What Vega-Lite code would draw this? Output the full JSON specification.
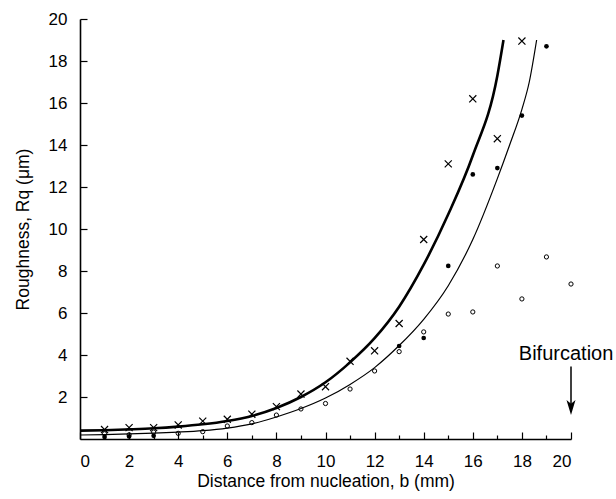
{
  "$schema": "https://vega.github.io/schema/vega-lite/v6.json",
  "width": 491,
  "height": 420,
  "autosize": {"type": "none"},
  "padding": {"left": 80, "top": 19, "right": 45, "bottom": 60},
  "background": "white",
  "config": {
    "view": {"stroke": null},
    "font": "Liberation Sans",
    "axis": {"grid": false, "domainColor": "black", "domainWidth": 1.6, "tickColor": "black", "tickWidth": 1.2, "labelColor": "black", "titleColor": "black", "labelFont": "Liberation Sans", "titleFont": "Liberation Sans", "labelFontSize": 17, "titleFontSize": 17.5, "titleFontWeight": "normal"}
  },
  "resolve": {"axis": {"x": "independent"}},
  "datasets": {
    "points": [
      {"x": 1, "y": 0.45, "series": "cross"}, {"x": 2, "y": 0.54, "series": "cross"}, {"x": 3, "y": 0.54, "series": "cross"}, {"x": 4, "y": 0.67, "series": "cross"}, {"x": 5, "y": 0.85, "series": "cross"}, {"x": 6, "y": 0.94, "series": "cross"}, {"x": 7, "y": 1.18, "series": "cross"}, {"x": 8, "y": 1.54, "series": "cross"}, {"x": 9, "y": 2.14, "series": "cross"}, {"x": 10, "y": 2.49, "series": "cross"}, {"x": 11, "y": 3.7, "series": "cross"}, {"x": 12, "y": 4.2, "series": "cross"}, {"x": 13, "y": 5.5, "series": "cross"}, {"x": 14, "y": 9.5, "series": "cross"}, {"x": 15, "y": 13.1, "series": "cross"}, {"x": 16, "y": 16.2, "series": "cross"}, {"x": 17, "y": 14.3, "series": "cross"}, {"x": 18, "y": 18.95, "series": "cross"},
      {"x": 1, "y": 0.25, "series": "open"}, {"x": 2, "y": 0.2, "series": "open"}, {"x": 3, "y": 0.33, "series": "open"}, {"x": 4, "y": 0.27, "series": "open"}, {"x": 5, "y": 0.35, "series": "open"}, {"x": 6, "y": 0.62, "series": "open"}, {"x": 7, "y": 0.78, "series": "open"}, {"x": 8, "y": 1.14, "series": "open"}, {"x": 9, "y": 1.43, "series": "open"}, {"x": 10, "y": 1.69, "series": "open"}, {"x": 11, "y": 2.38, "series": "open"}, {"x": 12, "y": 3.24, "series": "open"}, {"x": 13, "y": 4.16, "series": "open"}, {"x": 14, "y": 5.1, "series": "open"}, {"x": 15, "y": 5.95, "series": "open"}, {"x": 16, "y": 6.05, "series": "open"}, {"x": 17, "y": 8.24, "series": "open"}, {"x": 18, "y": 6.67, "series": "open"}, {"x": 19, "y": 8.67, "series": "open"}, {"x": 20, "y": 7.38, "series": "open"},
      {"x": 1, "y": 0.1, "series": "filled"}, {"x": 2, "y": 0.12, "series": "filled"}, {"x": 3, "y": 0.15, "series": "filled"}, {"x": 13, "y": 4.43, "series": "filled"}, {"x": 14, "y": 4.81, "series": "filled"}, {"x": 15, "y": 8.24, "series": "filled"}, {"x": 16, "y": 12.6, "series": "filled"}, {"x": 17, "y": 12.9, "series": "filled"}, {"x": 18, "y": 15.4, "series": "filled"}, {"x": 19, "y": 18.7, "series": "filled"}
    ],
    "curves": [
      {"x": 0, "y": 0.4, "curve": "thick"}, {"x": 1, "y": 0.42, "curve": "thick"}, {"x": 2, "y": 0.46, "curve": "thick"}, {"x": 3, "y": 0.51, "curve": "thick"}, {"x": 4, "y": 0.59, "curve": "thick"}, {"x": 5, "y": 0.7, "curve": "thick"}, {"x": 6, "y": 0.86, "curve": "thick"}, {"x": 7, "y": 1.1, "curve": "thick"}, {"x": 8, "y": 1.48, "curve": "thick"}, {"x": 9, "y": 2.0, "curve": "thick"}, {"x": 10, "y": 2.7, "curve": "thick"}, {"x": 11, "y": 3.65, "curve": "thick"}, {"x": 12, "y": 4.8, "curve": "thick"}, {"x": 13, "y": 6.3, "curve": "thick"}, {"x": 14, "y": 8.3, "curve": "thick"}, {"x": 15, "y": 10.7, "curve": "thick"}, {"x": 16, "y": 13.5, "curve": "thick"}, {"x": 17, "y": 17.3, "curve": "thick"}, {"x": 17.25, "y": 19.0, "curve": "thick"},
      {"x": 0, "y": 0.19, "curve": "thin"}, {"x": 1, "y": 0.21, "curve": "thin"}, {"x": 2, "y": 0.24, "curve": "thin"}, {"x": 3, "y": 0.28, "curve": "thin"}, {"x": 4, "y": 0.33, "curve": "thin"}, {"x": 5, "y": 0.4, "curve": "thin"}, {"x": 6, "y": 0.52, "curve": "thin"}, {"x": 7, "y": 0.72, "curve": "thin"}, {"x": 8, "y": 1.05, "curve": "thin"}, {"x": 9, "y": 1.45, "curve": "thin"}, {"x": 10, "y": 1.95, "curve": "thin"}, {"x": 11, "y": 2.6, "curve": "thin"}, {"x": 12, "y": 3.4, "curve": "thin"}, {"x": 13, "y": 4.45, "curve": "thin"}, {"x": 14, "y": 5.7, "curve": "thin"}, {"x": 15, "y": 7.3, "curve": "thin"}, {"x": 16, "y": 9.5, "curve": "thin"}, {"x": 17, "y": 12.4, "curve": "thin"}, {"x": 17.5, "y": 14.0, "curve": "thin"}, {"x": 18, "y": 15.7, "curve": "thin"}, {"x": 18.3, "y": 17.0, "curve": "thin"}, {"x": 18.6, "y": 19.0, "curve": "thin"}
    ],
    "note": [{"x": 19.8, "ax": 20, "y": 3.76, "label": "Bifurcation", "top": 3.45, "bottom": 1.5, "head": 1.5}]
  },
  "layer": [
    {
      "data": {"name": "curves"},
      "transform": [{"filter": "datum.curve == 'thick'"}],
      "mark": {"type": "line", "color": "black", "strokeWidth": 2.6, "interpolate": "monotone", "clip": true},
      "encoding": {
        "x": {"field": "x", "type": "quantitative", "scale": {"domain": [0, 20], "nice": false},
          "axis": {"values": [0,2,4,6,8,10,12,14,16,18,20], "tickSize": -7, "labelPadding": 21, "title": "Distance from nucleation, b (mm)", "titlePadding": 3}},
        "y": {"field": "y", "type": "quantitative", "scale": {"domain": [0, 20], "nice": false},
          "axis": {"values": [2,4,6,8,10,12,14,16,18,20], "tickSize": -7, "labelPadding": 20, "title": "Roughness, Rq (μm)", "titlePadding": 16}}
      }
    },
    {
      "data": {"name": "curves"},
      "transform": [{"filter": "datum.curve == 'thin'"}],
      "mark": {"type": "line", "color": "black", "strokeWidth": 1.2, "interpolate": "monotone", "clip": true},
      "encoding": {
        "x": {"field": "x", "type": "quantitative",
          "axis": {"orient": "bottom", "values": [1,3,5,7,9,11,13,15,17,19], "tickSize": -4, "labels": false, "domain": false, "title": null}},
        "y": {"field": "y", "type": "quantitative"}
      }
    },
    {
      "data": {"name": "points"},
      "transform": [{"filter": "datum.series == 'cross'"}],
      "mark": {"type": "point", "shape": "M-1,-1L1,1M1,-1L-1,1", "filled": false, "color": "black", "strokeWidth": 1.2, "size": 50, "opacity": 1},
      "encoding": {
        "x": {"field": "x", "type": "quantitative", "axis": null},
        "y": {"field": "y", "type": "quantitative"}
      }
    },
    {
      "data": {"name": "points"},
      "transform": [{"filter": "datum.series == 'open'"}],
      "mark": {"type": "point", "shape": "circle", "filled": false, "color": "black", "strokeWidth": 1, "size": 18, "opacity": 1},
      "encoding": {
        "x": {"field": "x", "type": "quantitative", "axis": null},
        "y": {"field": "y", "type": "quantitative"}
      }
    },
    {
      "data": {"name": "points"},
      "transform": [{"filter": "datum.series == 'filled'"}],
      "mark": {"type": "point", "shape": "circle", "filled": true, "color": "black", "size": 22, "opacity": 1},
      "encoding": {
        "x": {"field": "x", "type": "quantitative", "axis": null},
        "y": {"field": "y", "type": "quantitative"}
      }
    },
    {
      "data": {"name": "note"},
      "mark": {"type": "text", "font": "Liberation Sans", "fontSize": 20, "align": "center", "baseline": "alphabetic", "color": "black"},
      "encoding": {
        "x": {"field": "x", "type": "quantitative", "axis": null},
        "y": {"field": "y", "type": "quantitative"},
        "text": {"field": "label"}
      }
    },
    {
      "data": {"name": "note"},
      "mark": {"type": "rule", "color": "black", "strokeWidth": 1.5},
      "encoding": {
        "x": {"field": "ax", "type": "quantitative", "axis": null},
        "y": {"field": "top", "type": "quantitative"},
        "y2": {"field": "bottom"}
      }
    },
    {
      "data": {"name": "note"},
      "mark": {"type": "point", "shape": "M-0.6,-1L0,1L0.6,-1L0,-0.5Z", "filled": true, "color": "black", "size": 225, "opacity": 1},
      "encoding": {
        "x": {"field": "ax", "type": "quantitative", "axis": null},
        "y": {"field": "head", "type": "quantitative"}
      }
    }
  ]
}
